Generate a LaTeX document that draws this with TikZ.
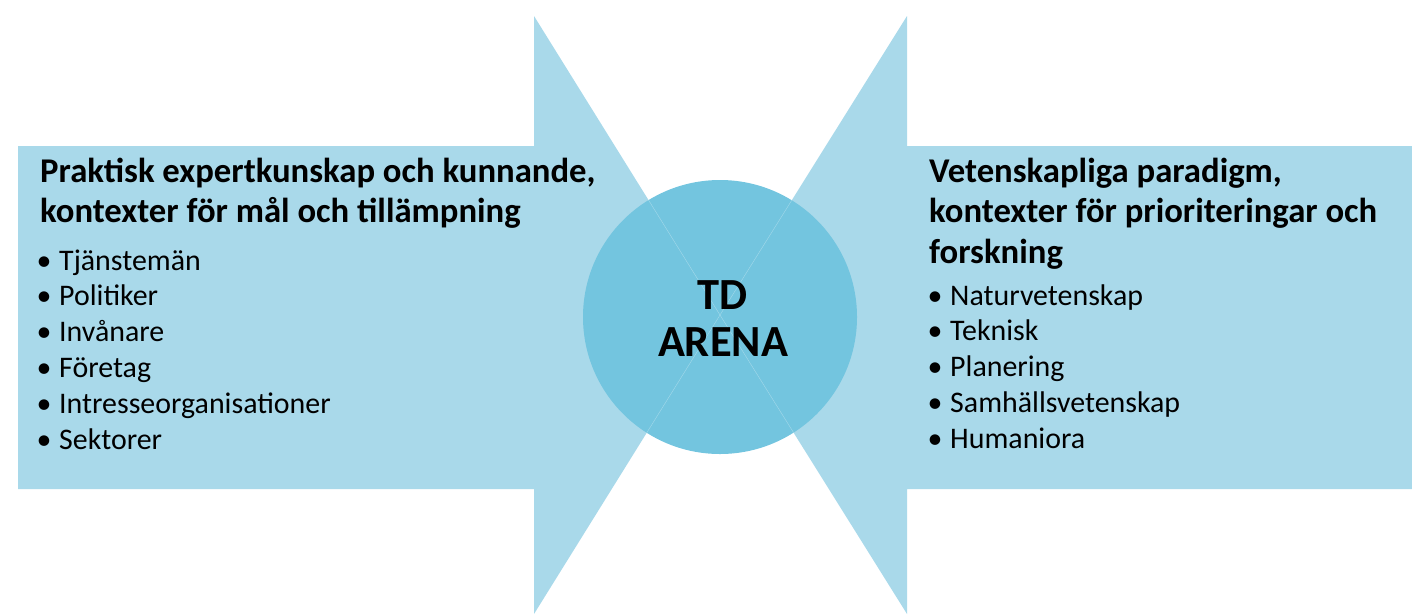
\documentclass[tikz,border=0pt]{standalone}
\usepackage{fontspec}
\setmainfont{Carlito}
\definecolor{arrowblue}{HTML}{A9D9EA}
\definecolor{circleblue}{HTML}{73C5DF}
\begin{document}
\begin{tikzpicture}[x=1pt,y=-1pt,
  title/.style={anchor=base west,inner sep=0pt,font=\fontsize{34.7}{40}\selectfont\bfseries},
  item/.style={anchor=base west,inner sep=0pt,font=\fontsize{29.9}{36}\selectfont},
  dot/.style={anchor=base,inner sep=0pt,font=\fontsize{29.9}{36}\selectfont},
  big/.style={anchor=base,inner sep=0pt,font=\fontsize{44.5}{47}\selectfont\bfseries}]
\useasboundingbox (0,0) rectangle (1412,614);
% arrows
\fill[arrowblue] (18,146) -- (534,146) -- (534,16) -- (720,315) -- (534,614) -- (534,489) -- (18,489) -- cycle;
\fill[arrowblue] (1412,146) -- (907,146) -- (907,16) -- (720,315) -- (907,614) -- (907,489) -- (1412,489) -- cycle;
% centre circle
\node[circle,fill=circleblue,minimum size=274pt,inner sep=0pt] (arena) at (720,317) {};
\begin{scope}
\clip (720,317) circle (137);
\draw[white,opacity=0.35,line width=0.4pt] (534,16) -- (720,315) -- (534,614);
\draw[white,opacity=0.35,line width=0.4pt] (907,16) -- (720,315) -- (907,614);
\end{scope}
\node[big] (td) at (723,309) {TD};
\node[big] (ar) at (723,356) {ARENA};
% left text
\node[title] (lt1) at (40,182) {Praktisk expertkunskap och kunnande,};
\node[title] (lt2) at (40,222) {kontexter för mål och tillämpning};
\foreach \t [count=\i] in {Tjänstemän,Politiker,Invånare,Företag,Intresseorganisationer,Sektorer}{
  \node[dot] (ld\i) at (44,{270+35.8*(\i-1)}) {•};
  \node[item] (li\i) at (59,{270+35.8*(\i-1)}) {\t};
}
% right text
\node[title] (rt1) at (929,182) {Vetenskapliga paradigm,};
\node[title] (rt2) at (929,222) {kontexter för prioriteringar och};
\node[title] (rt3) at (929,263) {forskning};
\foreach \t [count=\i] in {Naturvetenskap,Teknisk,Planering,Samhällsvetenskap,Humaniora}{
  \node[dot] (rd\i) at (935,{305+35.8*(\i-1)}) {•};
  \node[item] (ri\i) at (950,{305+35.8*(\i-1)}) {\t};
}
\end{tikzpicture}
\end{document}
